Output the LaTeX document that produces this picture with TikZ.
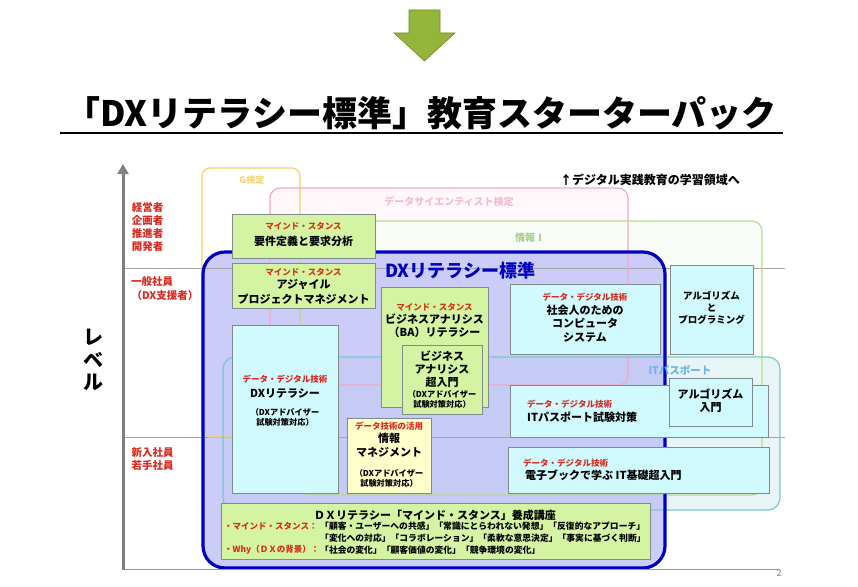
\documentclass[tikz,border=0pt]{standalone}
\usepackage{fontspec}
\setmainfont{Noto Sans CJK JP}
\usetikzlibrary{arrows.meta}
\definecolor{gfill}{HTML}{D4F4A4}
\definecolor{cfill}{HTML}{D0FAFE}
\definecolor{yfill}{HTML}{FFFFCC}
\definecolor{boxgray}{HTML}{7F8C8D}
\definecolor{dxfill}{HTML}{CCCCF8}
\definecolor{dxblue}{HTML}{0000C0}
\definecolor{redc}{HTML}{D92A1F}
\definecolor{redm}{HTML}{CC3A12}
\definecolor{gyel}{HTML}{F2D165}
\definecolor{gyeltxt}{HTML}{F5D56A}
\definecolor{dspink}{HTML}{F2A9C4}
\definecolor{dspinktxt}{HTML}{F4BCCF}
\definecolor{infog}{HTML}{B7DA92}
\definecolor{infogtxt}{HTML}{A8D08D}
\definecolor{itpc}{HTML}{7BC6CF}
\definecolor{itptxt}{HTML}{6CB4E4}
\definecolor{axgray}{HTML}{808080}
\definecolor{lvgray}{HTML}{A6A6A6}
\definecolor{arrowg}{HTML}{93B53A}
\definecolor{arrowd}{HTML}{6E8C20}
\newcommand\tx[4]{\node[#1] (#2) at (#3) {#4};}
\begin{document}
\begin{tikzpicture}[x=1pt,y=-1pt,
  cbox/.style={draw=boxgray, line width=0.9pt, inner sep=0, anchor=north west},
  rt/.style={text=redc, font=\fontsize{8.5}{10}\selectfont\bfseries, inner sep=0},
  rm/.style={text=redm, font=\fontsize{8.5}{10}\selectfont\bfseries, inner sep=0},
  bt/.style={font=\fontsize{11}{13}\selectfont\bfseries, inner sep=0},
  mt/.style={font=\fontsize{9.5}{11}\selectfont\bfseries, inner sep=0},
  st/.style={font=\fontsize{8.2}{9}\selectfont\bfseries, inner sep=0},
  bs/.style={font=\fontsize{8.8}{10}\selectfont\bfseries, inner sep=0, anchor=west},
  rs/.style={text=redc, font=\fontsize{8.5}{10}\selectfont\bfseries, inner sep=0, anchor=west},
  lab/.style={text=redc, font=\fontsize{10.5}{13.3}\selectfont\bfseries, inner sep=0, align=center},
  bglab/.style={font=\fontsize{10}{12}\selectfont\bfseries, inner sep=0},
  bgline/.style={line width=1.2pt, fill=none}
]
\useasboundingbox (0,0) rectangle (858,586);
\fill[white] (0,0) rectangle (858,586);

% green arrow
\draw[fill=arrowg, draw=arrowd, line width=0.6pt] (409,10) -- (440,10) -- (440,33) -- (455,33) -- (424.5,61) -- (394,33) -- (409,33) -- cycle;

% title
\node[font=\fontsize{35}{40}\selectfont\bfseries, inner sep=0] (title) at (421,113) {「DXリテラシー標準」教育スターターパック};
\coordinate (ul1) at (60,133);
\coordinate (ul2) at (783,133);
\draw[line width=1.5pt] (ul1) -- (ul2);

% faint fills of background areas
\fill[dspink!8, rounded corners=10pt] (270,188) rectangle (628,385);
\fill[infog!8, rounded corners=10pt] (300,221) rectangle (762,495);
\fill[itpc!10, rounded corners=12pt] (223,357) rectangle (780,510);

% DX literacy standard area
\fill[dxfill, rounded corners=22pt] (203,252) rectangle (665,568);
\fill[itpc, opacity=0.08, rounded corners=12pt] (223,357) rectangle (780,510);

% level lines
\coordinate (lv1a) at (123,268);
\coordinate (lv1b) at (785,268);
\coordinate (lv2a) at (123,437);
\coordinate (lv2b) at (785,437);
\draw[lvgray, line width=0.8pt] (lv1a) -- (lv1b);
\draw[lvgray, line width=0.8pt] (lv2a) -- (lv2b);

% background outlines
\draw[bgline, draw=gyel, rounded corners=8pt] (202,168) rectangle (300,437);
\draw[bgline, draw=dspink, rounded corners=10pt] (270,188) rectangle (628,385);
\draw[bgline, draw=infog, rounded corners=10pt] (300,221) rectangle (762,495);
\draw[bgline, draw=itpc, rounded corners=12pt] (223,357) rectangle (780,510);

% DX border
\draw[dxblue, line width=3.2pt, rounded corners=22pt] (203,252) rectangle (665,568);

% background labels
\tx{bglab, text=gyeltxt, font=\fontsize{9}{10}\selectfont\bfseries}{glab}{252,180}{G検定}
\tx{bglab, text=dspinktxt}{dslab}{449,202}{データサイエンティスト検定}
\tx{bglab, text=infogtxt}{infolab}{530,238}{情報Ⅰ}
\tx{bglab, text=itptxt, font=\fontsize{10.5}{12}\selectfont\bfseries}{itplab}{680,370}{ITパスポート}
\tx{inner sep=0, text=dxblue, font=\fontsize{18}{20}\selectfont\bfseries}{dxtitle}{460,271}{DXリテラシー標準}
\tx{inner sep=0, font=\fontsize{12}{14}\selectfont\bfseries}{toplab}{650,180}{↑デジタル実践教育の学習領域へ}

% content boxes
\node[cbox, fill=gfill, minimum width=143pt, minimum height=44pt] (req) at (232,214) {};
\tx{rm}{req1}{303.5,226}{マインド・スタンス}
\tx{bt}{req2}{303.5,241}{要件定義と要求分析}

\node[cbox, fill=gfill, minimum width=143pt, minimum height=45pt] (agile) at (232,263) {};
\tx{rm}{agile1}{303.5,272}{マインド・スタンス}
\tx{bt}{agile2}{303.5,285}{アジャイル}
\tx{bt}{agile3}{303.5,299}{プロジェクトマネジメント}

\node[cbox, fill=cfill, minimum width=106pt, minimum height=168pt] (dxlit) at (232,325) {};
\tx{rt}{dxlit1}{285,379}{データ・デジタル技術}
\tx{bt}{dxlit2}{285,393}{DXリテラシー}
\tx{st}{dxlit3}{285,412}{（DXアドバイザー}
\tx{st}{dxlit4}{285,422.5}{試験対策対応）}

\node[cbox, fill=gfill, minimum width=107pt, minimum height=120pt] (ba) at (381,287) {};
\tx{rm}{ba1}{434.5,307}{マインド・スタンス}
\tx{bt}{ba2}{434.5,319}{ビジネスアナリシス}
\tx{bt}{ba3}{434.5,332}{（BA）リテラシー}

\node[cbox, fill=gfill, minimum width=80pt, minimum height=69pt] (bai) at (402,345) {};
\tx{bt}{bai1}{442,356}{ビジネス}
\tx{bt}{bai2}{442,369}{アナリシス}
\tx{bt}{bai3}{442,382}{超入門}
\tx{st}{bai4}{442,394}{（DXアドバイザー}
\tx{st}{bai5}{442,404.5}{試験対策対応）}

\node[cbox, fill=yfill, minimum width=84pt, minimum height=75pt] (info) at (347,418) {};
\tx{rt}{info1}{389,426}{データ技術の活用}
\tx{bt}{info2}{389,438}{情報}
\tx{bt}{info3}{389,452}{マネジメント}
\tx{st}{info4}{389,473}{（DXアドバイザー}
\tx{st}{info5}{389,483.5}{試験対策対応）}

\node[cbox, fill=cfill, minimum width=150pt, minimum height=70pt] (soc) at (510,284) {};
\tx{rt}{soc1}{585,297}{データ・デジタル技術}
\tx{bt}{soc2}{585,310}{社会人のための}
\tx{bt}{soc3}{585,323}{コンピュータ}
\tx{bt}{soc4}{585,337}{システム}

\node[cbox, fill=cfill, minimum width=83pt, minimum height=89pt] (algp) at (670,265) {};
\tx{mt}{algp1}{711.5,296}{アルゴリズム}
\tx{mt}{algp2}{711.5,308}{と}
\tx{mt}{algp3}{711.5,320}{プログラミング}

\node[cbox, fill=cfill, minimum width=258pt, minimum height=52pt] (itp) at (510,385) {};
\tx{rt, anchor=west}{itp1}{527,404}{データ・デジタル技術}
\tx{bt, anchor=west}{itp2}{527,417}{ITパスポート試験対策}

\node[cbox, fill=cfill, minimum width=83pt, minimum height=48pt] (algi) at (669,378) {};
\tx{bt}{algi1}{710.5,394}{アルゴリズム}
\tx{bt}{algi2}{710.5,408}{入門}

\node[cbox, fill=cfill, minimum width=261pt, minimum height=46pt] (ebook) at (508,447) {};
\tx{rt, anchor=west}{ebook1}{523,463}{データ・デジタル技術}
\tx{bt, anchor=west}{ebook2}{525,475}{電子ブックで学ぶ IT基礎超入門}

\node[cbox, fill=gfill, minimum width=429pt, minimum height=56pt] (course) at (221,503) {};
\tx{bt}{course0}{435,515}{ＤＸリテラシー「マインド・スタンス」養成講座}
\tx{rs}{course1r}{224,526}{・マインド・スタンス：}
\tx{bs}{course1b}{320,526}{「顧客・ユーザーへの共感」「常識にとらわれない発想」「反復的なアプローチ」}
\tx{bs}{course2b}{320,538}{「変化への対応」「コラボレーション」「柔軟な意思決定」「事実に基づく判断」}
\tx{rs}{course3r}{224,550}{・Why（ＤＸの背景）：}
\tx{bs}{course3b}{320,550}{「社会の変化」「顧客価値の変化」「競争環境の変化」}

% axis
\coordinate (axb) at (123,570);
\coordinate (axt) at (123,164);
\coordinate (hxa) at (123,569);
\coordinate (hxb) at (780,569);
\draw[axgray!80, line width=1pt] (hxa) -- (hxb);
\draw[axgray, line width=3pt, -{Triangle[width=11pt,length=10pt]}] (axb) -- (axt);
\tx{inner sep=0, text=axgray, font=\fontsize{9}{10}\selectfont}{pageno}{779,573}{2}

% level labels
\tx{lab}{lvtop}{147.5,227}{経営者\\企画者\\推進者\\開発者}
\tx{lab}{lvmid1}{152,282}{一般社員}
\tx{lab}{lvmid2}{165,296}{（DX支援者）}
\tx{lab, font=\fontsize{10.5}{13}\selectfont\bfseries}{lvlow}{152.5,459.5}{新入社員\\若手社員}
\tx{inner sep=0, align=center, font=\fontsize{20}{22.5}\selectfont\bfseries}{level}{93,360}{レ\\ベ\\ル}
\end{tikzpicture}
\end{document}
